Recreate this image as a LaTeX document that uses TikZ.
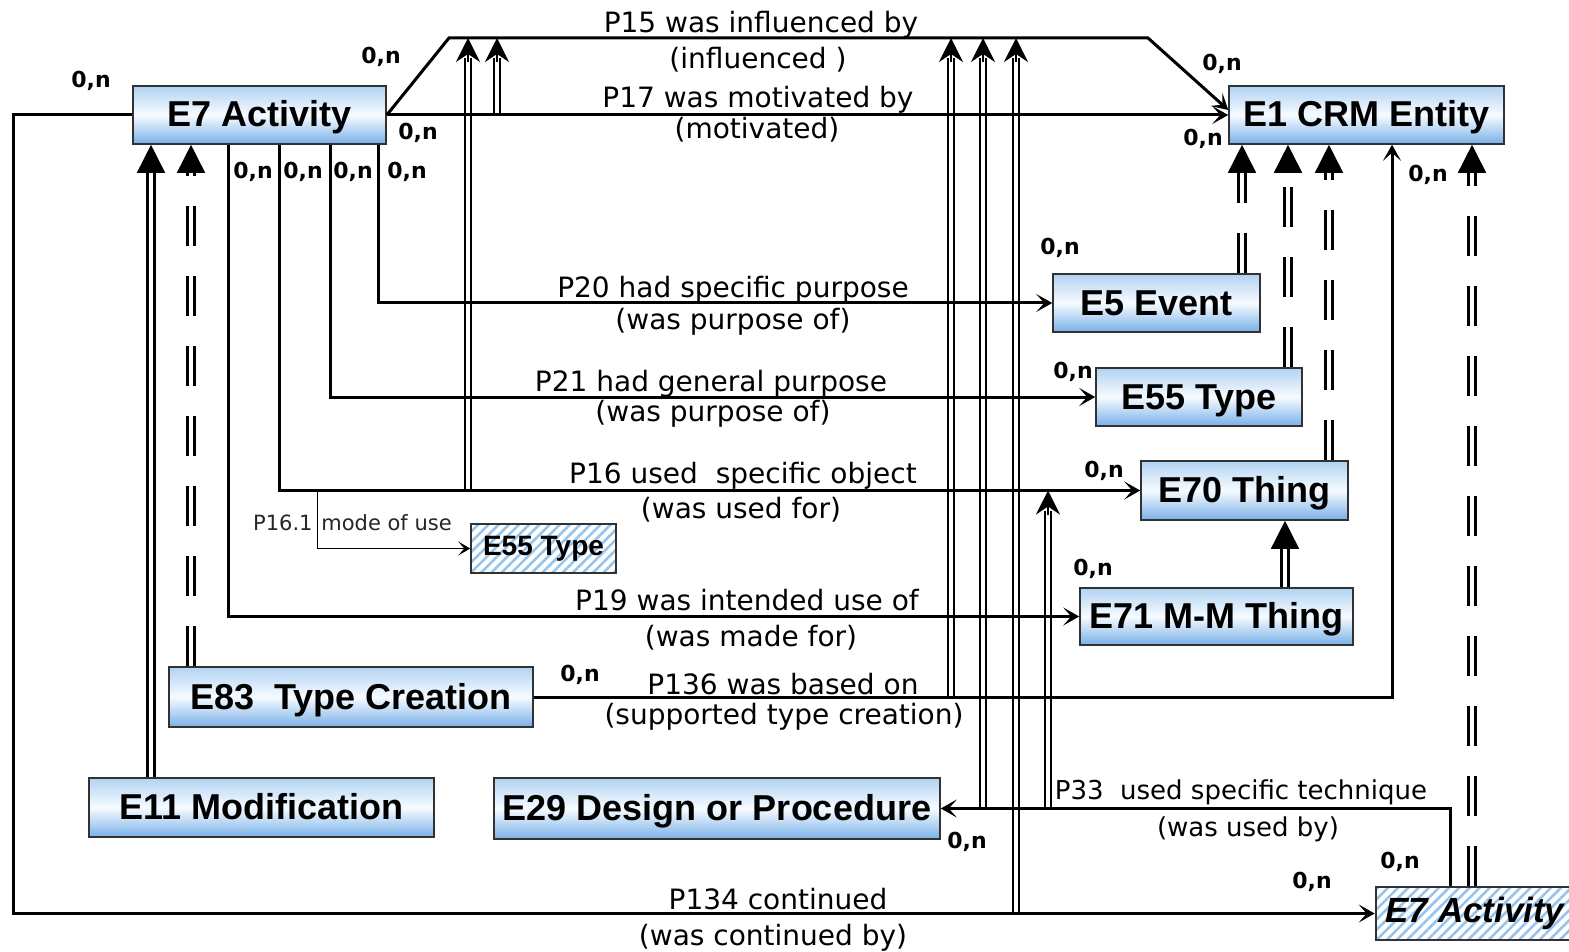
\documentclass[tikz,border=0pt]{standalone}
\usepackage{fontspec}
\setmainfont{DejaVu Sans}
\newfontfamily\boxfont{Liberation Sans}
\usetikzlibrary{arrows.meta,calc,patterns.meta}
\definecolor{boxtop}{RGB}{176,211,242}
\definecolor{boxmid}{RGB}{247,251,255}
\definecolor{boxbot}{RGB}{120,176,232}
\definecolor{boxline}{RGB}{50,50,50}
\definecolor{hatchblue}{RGB}{150,196,236}

\begin{document}
\begin{tikzpicture}[
  x=0.5pt, y=-0.5pt,
  ent/.style={draw=boxline, line width=0.8pt, top color=boxtop, bottom color=boxbot,
    middle color=boxmid, inner sep=0pt, text height=13pt, text depth=1pt,
    font=\boxfont\bfseries\fontsize{18}{20}\selectfont},
  enth/.style={draw=boxline, line width=0.8pt, inner sep=0pt,
    pattern={Lines[angle=45,distance=3.6pt,line width=1.3pt]}, pattern color=hatchblue},
  rel/.style={line width=1.5pt, -{Stealth[length=8pt,width=9pt,inset=4pt]}},
  qual/.style={line width=0.5pt, -{Stealth[length=6pt,width=7pt,inset=3pt]}},
  subprop/.style={double, double distance=2pt, line width=1pt, shorten >=10pt},
  subtip/.style={line width=0.8pt, -{Stealth[length=12pt,width=12pt,inset=4pt]}},
  isa/.style={double, double distance=2.4pt, line width=1.2pt, shorten >=12pt},
  isad/.style={isa, dash pattern=on 20pt off 15pt},
  isatip/.style={line width=0.8pt, -{Triangle[length=14pt,width=14pt]}},
  lbl/.style={font=\fontsize{14}{16}\selectfont, inner sep=0pt, anchor=base},
  lblup/.style={lbl, yshift=2.8pt},
  lbldn/.style={lbl, yshift=-12pt},
  qlbl/.style={font=\fontsize{10.5}{12}\selectfont, inner sep=0pt, text=black!85},
  card/.style={font=\bfseries\fontsize{11}{12}\selectfont, inner sep=0pt}
]
\useasboundingbox (0,0) rectangle (1569,952);
\clip (0,0) rectangle (1569,952);

\node[ent, minimum width=126.5pt, minimum height=29pt] (act) at (259.5,115) {E7 Activity};
\node[ent, minimum width=137.5pt, minimum height=29pt] (crm) at (1366.5,115) {E1 CRM Entity};
\node[ent, minimum width=103.5pt, minimum height=29pt] (ev) at (1156.5,303) {E5 Event};
\node[ent, minimum width=103pt, minimum height=29pt] (typ) at (1199,397) {E55 Type};
\node[ent, minimum width=103.5pt, minimum height=29.5pt] (thing) at (1244.5,490.5) {E70 Thing};
\node[ent, minimum width=136.5pt, minimum height=28.5pt] (mmt) at (1216.5,616.5) {E71 M-M Thing};
\node[ent, minimum width=182pt, minimum height=30pt] (tc) at (351,697) {E83\ \ Type Creation};
\node[ent, minimum width=172.5pt, minimum height=29.5pt] (mod) at (261.5,807.5) {E11 Modification};
\node[ent, minimum width=223pt, minimum height=30.5pt] (dp) at (717,808.5) {E29 Design or Procedure};
\node[enth, minimum width=99pt, minimum height=26.5pt,
  font=\boxfont\bfseries\itshape\fontsize{17.5}{20}\selectfont] (act2) at (1475,913.5) {E7 Activity};
\node[enth, minimum width=72.5pt, minimum height=24.5pt,
  font=\boxfont\bfseries\fontsize{14}{16}\selectfont] (typ2) at (543.5,548.5) {E55 Type};

\coordinate (xp19) at (228,0);
\coordinate (xp16) at (279,0);
\coordinate (xp21) at (330,0);
\coordinate (xp20) at (378,0);
\coordinate (xp161) at (317,0);
\coordinate (xp136) at (1392,0);
\coordinate (xp33) at (1450,0);
\coordinate (xleft) at (13,0);
\coordinate (p15a) at (449,38);
\coordinate (p15b) at (1148,38);
\coordinate (xs1) at (468,0);
\coordinate (xs2) at (497,0);
\coordinate (xs3) at (951,0);
\coordinate (xs4) at (983,0);
\coordinate (xs5) at (1016,0);
\coordinate (xs6) at (1048,0);
\coordinate (xi1) at (151,0);
\coordinate (xi2) at (191,0);
\coordinate (xi3) at (1242,0);
\coordinate (xi4) at (1288,0);
\coordinate (xi5) at (1329,0);
\coordinate (xi6) at (1472,0);
\coordinate (xi7) at (1285,0);

\draw[subprop] (xs1 |- thing.west) -- (xs1 |- p15a);
\draw[subprop] (xs2 |- crm.west) -- (xs2 |- p15a);
\draw[subprop] (xs3 |- tc.east) -- (xs3 |- p15a);
\draw[subprop] (xs4 |- dp.east) -- (xs4 |- p15a);
\draw[subprop] (xs5 |- act2.west) -- (xs5 |- p15a);
\draw[subprop] (xs6 |- dp.east) -- (xs6 |- thing.west);

\draw[rel] (act.east) -- (p15a) -- (p15b) -- ([yshift=2.5pt]crm.west);
\draw[rel] (act.east) -- (crm.west);
\draw[rel] (act.south -| xp20) |- (ev.west);
\draw[rel] (act.south -| xp21) |- (typ.west);
\draw[rel] (act.south -| xp16) |- (thing.west);
\draw[rel] (act.south -| xp19) |- (mmt.west);
\draw[qual] (xp161 |- thing.west) |- (typ2.west);
\draw[rel] (tc.east) -| (crm.south -| xp136);
\draw[rel] (act2.north -| xp33) |- (dp.east);
\draw[rel] (act.west) -| (xleft |- act2.west) -- (act2.west);

\draw[subtip] ($(xs1 |- p15a)+(0,24)$) -- (xs1 |- p15a);
\draw[subtip] ($(xs2 |- p15a)+(0,24)$) -- (xs2 |- p15a);
\draw[subtip] ($(xs3 |- p15a)+(0,24)$) -- (xs3 |- p15a);
\draw[subtip] ($(xs4 |- p15a)+(0,24)$) -- (xs4 |- p15a);
\draw[subtip] ($(xs5 |- p15a)+(0,24)$) -- (xs5 |- p15a);
\draw[subtip] ($(xs6 |- thing.west)+(0,24)$) -- (xs6 |- thing.west);

\draw[isa] (mod.north -| xi1) -- (act.south -| xi1);
\draw[isatip] ($(act.south -| xi1)+(0,28)$) -- (act.south -| xi1);
\draw[isad] (tc.north -| xi2) -- (act.south -| xi2);
\draw[isatip] ($(act.south -| xi2)+(0,28)$) -- (act.south -| xi2);
\draw[isad] (ev.north -| xi3) -- (crm.south -| xi3);
\draw[isatip] ($(crm.south -| xi3)+(0,28)$) -- (crm.south -| xi3);
\draw[isad] (typ.north -| xi4) -- (crm.south -| xi4);
\draw[isatip] ($(crm.south -| xi4)+(0,28)$) -- (crm.south -| xi4);
\draw[isad] (thing.north -| xi5) -- (crm.south -| xi5);
\draw[isatip] ($(crm.south -| xi5)+(0,28)$) -- (crm.south -| xi5);
\draw[isad] (act2.north -| xi6) -- (crm.south -| xi6);
\draw[isatip] ($(crm.south -| xi6)+(0,28)$) -- (crm.south -| xi6);
\draw[isa] (mmt.north -| xi7) -- (thing.south -| xi7);
\draw[isatip] ($(thing.south -| xi7)+(0,28)$) -- (thing.south -| xi7);

\node[lblup] (l15a) at (761,38) {P15 was influenced by};
\node[lbldn] (l15b) at (758,45) {(influenced )};
\node[lblup] (l17a) at (758,113) {P17 was motivated by};
\node[lbldn] (l17b) at (757,115) {(motivated)};
\node[lblup] (l20a) at (733,303) {P20 had specific purpose};
\node[lbldn] (l20b) at (733,305) {(was purpose of)};
\node[lblup] (l21a) at (711,397) {P21 had general purpose};
\node[lbldn] (l21b) at (713,397) {(was purpose of)};
\node[lblup] (l16a) at (743,489) {P16 used\ \ specific object};
\node[lbldn] (l16b) at (741,494) {(was used for)};
\node[lblup] (l19a) at (747,616) {P19 was intended use of};
\node[lbldn] (l19b) at (751,622) {(was made for)};
\node[lblup] (l136a) at (783,700) {P136 was based on};
\node[lbldn] (l136b) at (784,700) {(supported type creation)};
\node[lblup, font=\fontsize{13}{15}\selectfont] (l33a) at (1241,805) {P33\ \ used specific technique};
\node[lbldn, font=\fontsize{13}{15}\selectfont] (l33b) at (1248,812) {(was used by)};
\node[lblup] (l134a) at (778,915.5) {P134 continued};
\node[lbldn] (l134b) at (773,921) {(was continued by)};
\node[qlbl, anchor=base east] (q1) at (313,530) {P16.1};
\node[qlbl, anchor=base west] (q2) at (321,530) {mode of use};

\node[card] (c1) at (91,81) {0,n};
\node[card] (c2) at (381,57) {0,n};
\node[card] (c3) at (418,133) {0,n};
\node[card] (c4) at (253,172) {0,n};
\node[card] (c5) at (303,172) {0,n};
\node[card] (c6) at (353,172) {0,n};
\node[card] (c7) at (407,172) {0,n};
\node[card] (c8) at (1222,64) {0,n};
\node[card] (c9) at (1203,139) {0,n};
\node[card] (c10) at (1060,248) {0,n};
\node[card] (c11) at (1073,372) {0,n};
\node[card] (c12) at (1104,471) {0,n};
\node[card] (c13) at (1093,569) {0,n};
\node[card] (c14) at (1428,175) {0,n};
\node[card] (c15) at (580,675) {0,n};
\node[card] (c16) at (967,842) {0,n};
\node[card] (c17) at (1400,862) {0,n};
\node[card] (c18) at (1312,882) {0,n};
\end{tikzpicture}
\end{document}
